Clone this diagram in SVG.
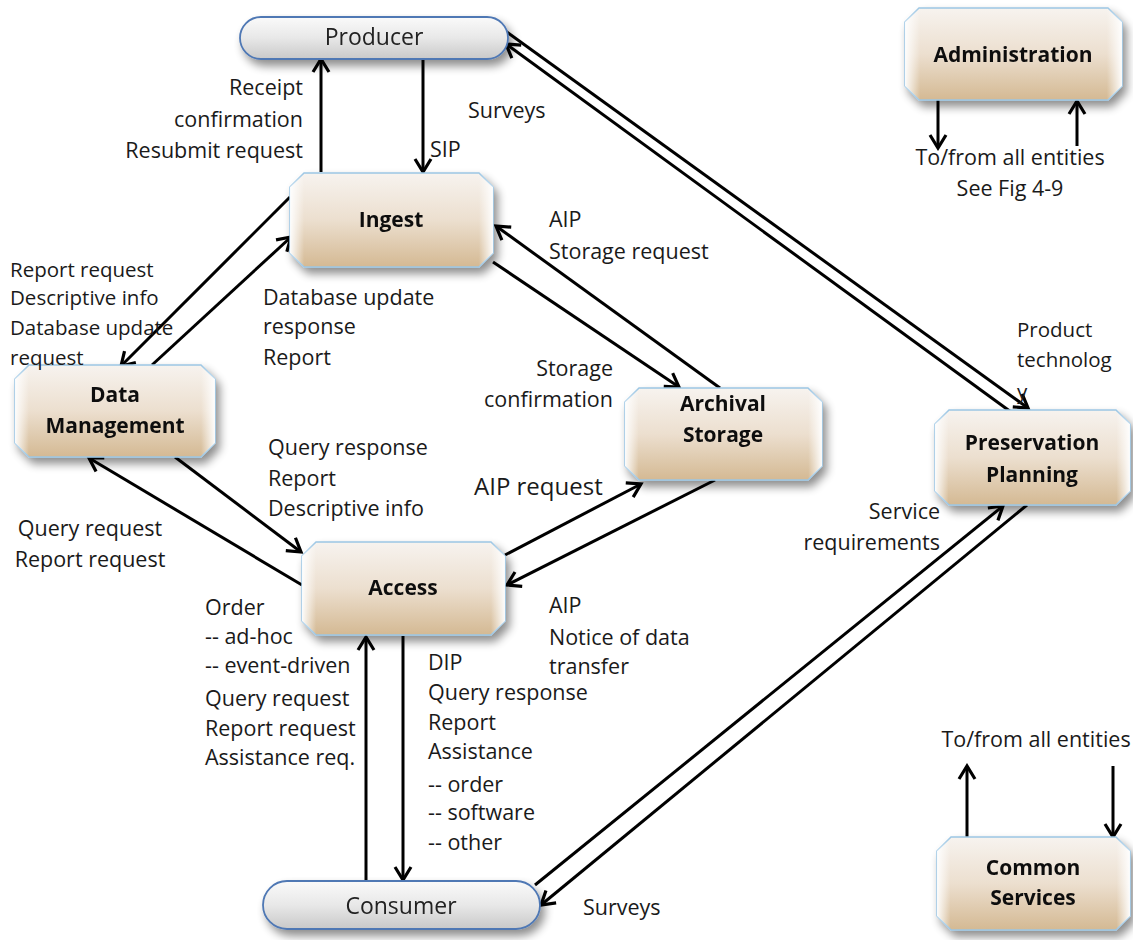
<svg xmlns="http://www.w3.org/2000/svg" width="1133" height="940" viewBox="0 0 1133 940">
<style>
.lbl{font-family:"Open Sans","Liberation Sans",sans-serif;font-size:21.5px;fill:#1a1a1a}
.nt{font-family:"Open Sans","Liberation Sans",sans-serif;font-size:21px;font-weight:bold;fill:#111;text-anchor:middle}
.pt{font-family:"Open Sans","Liberation Sans",sans-serif;font-size:23px;fill:#222;text-anchor:middle}
.box{fill:url(#tan);stroke:#9cc6e4;stroke-width:1.5}
.hl{fill:url(#side)}
.pill{fill:url(#gray);stroke:#4f78b4;stroke-width:1.8}
.ca{fill:none;stroke:#000;stroke-width:3;marker-end:url(#ah)}
.e{text-anchor:end}
.m{text-anchor:middle}
.s{font-size:20.5px}
</style>
<defs>
<linearGradient id="tan" x1="0" y1="0" x2="0" y2="1">
<stop offset="0" stop-color="#f7f3ef"/>
<stop offset="0.5" stop-color="#ecdfcf"/>
<stop offset="1" stop-color="#d4b993"/>
</linearGradient>
<linearGradient id="side" x1="0" y1="0" x2="1" y2="0">
<stop offset="0" stop-color="#fff" stop-opacity="0.95"/>
<stop offset="0.07" stop-color="#fff" stop-opacity="0"/>
<stop offset="0.93" stop-color="#fff" stop-opacity="0"/>
<stop offset="1" stop-color="#fff" stop-opacity="0.95"/>
</linearGradient>
<linearGradient id="gray" x1="0" y1="0" x2="0" y2="1">
<stop offset="0" stop-color="#fafafa"/>
<stop offset="0.5" stop-color="#e8e8e8"/>
<stop offset="1" stop-color="#c9c9c9"/>
</linearGradient>
<filter id="sh" x="-20%" y="-20%" width="150%" height="160%">
<feGaussianBlur in="SourceAlpha" stdDeviation="5"/>
<feOffset dx="4" dy="6" result="b"/>
<feComponentTransfer><feFuncA type="linear" slope="0.45"/></feComponentTransfer>
<feMerge><feMergeNode/><feMergeNode in="SourceGraphic"/></feMerge>
</filter>
<marker id="ah" viewBox="0 0 20 20" refX="17" refY="10" markerWidth="20" markerHeight="20" orient="auto" markerUnits="userSpaceOnUse">
<path d="M4,2 L17,10 L4,18" fill="none" stroke="#000" stroke-width="3.2"/>
</marker>
</defs>
<rect width="1133" height="940" fill="#fff"/>

<g id="connectors">
<path class="ca" d="M423,58 L423,172"/>
<path class="ca" d="M321,172 L321,59"/>
<path class="ca" d="M497,25 L1028,408"/>
<path class="ca" d="M1011,412 L506,44"/>
<path class="ca" d="M290,197 L121,366"/>
<path class="ca" d="M152,365 L291,237"/>
<path class="ca" d="M493,262 L679,387"/>
<path class="ca" d="M720,388 L496,226"/>
<path class="ca" d="M175,457 L301,552"/>
<path class="ca" d="M302,585 L89,458"/>
<path class="ca" d="M505,555 L641,484"/>
<path class="ca" d="M715,480 L507,585"/>
<path class="ca" d="M366,881 L366,637"/>
<path class="ca" d="M403,636 L403,880"/>
<path class="ca" d="M535,885 L1003,506"/>
<path class="ca" d="M1027,505 L541,905"/>
<path class="ca" d="M938,100 L938,148"/>
<path class="ca" d="M1077,146 L1077,101"/>
<path class="ca" d="M967,837 L967,766"/>
<path class="ca" d="M1113,766 L1113,837"/>
</g>

<g id="producer" filter="url(#sh)">
<rect class="pill" x="240" y="17" width="268" height="42" rx="21"/>
<text class="pt" x="374" y="45">Producer</text>
</g>
<g id="consumer" filter="url(#sh)">
<rect class="pill" x="263" y="881" width="277" height="48" rx="24"/>
<text class="pt" x="401" y="914">Consumer</text>
</g>
<g id="administration" filter="url(#sh)">
<path class="box" d="M919,8 H1108 L1122,22 V86 L1108,100 H919 L905,86 V22 Z"/>
<path class="hl" d="M919,8 H1108 L1122,22 V86 L1108,100 H919 L905,86 V22 Z"/>
<text class="nt" x="1013" y="62">Administration</text>
</g>
<g id="ingest" filter="url(#sh)">
<path class="box" d="M304,173 H479 L493,187 V253 L479,267 H304 L290,253 V187 Z"/>
<path class="hl" d="M304,173 H479 L493,187 V253 L479,267 H304 L290,253 V187 Z"/>
<text class="nt" x="391" y="227">Ingest</text>
</g>
<g id="data-management" filter="url(#sh)">
<path class="box" d="M29,365 H201 L215,379 V443 L201,457 H29 L15,443 V379 Z"/>
<path class="hl" d="M29,365 H201 L215,379 V443 L201,457 H29 L15,443 V379 Z"/>
<text class="nt" x="115" y="402">Data</text>
<text class="nt" x="115" y="433">Management</text>
</g>
<g id="archival-storage" filter="url(#sh)">
<path class="box" d="M639,388 H808 L822,402 V466 L808,480 H639 L625,466 V402 Z"/>
<path class="hl" d="M639,388 H808 L822,402 V466 L808,480 H639 L625,466 V402 Z"/>
<text class="nt" x="723" y="411">Archival</text>
<text class="nt" x="723" y="442">Storage</text>
</g>
<g id="access" filter="url(#sh)">
<path class="box" d="M316,542 H491 L505,556 V621 L491,635 H316 L302,621 V556 Z"/>
<path class="hl" d="M316,542 H491 L505,556 V621 L491,635 H316 L302,621 V556 Z"/>
<text class="nt" x="403" y="595">Access</text>
</g>
<g id="preservation-planning" filter="url(#sh)">
<path class="box" d="M949,410 H1116 L1130,424 V491 L1116,505 H949 L935,491 V424 Z"/>
<path class="hl" d="M949,410 H1116 L1130,424 V491 L1116,505 H949 L935,491 V424 Z"/>
<text class="nt" x="1032" y="450">Preservation</text>
<text class="nt" x="1032" y="482">Planning</text>
</g>
<g id="common-services" filter="url(#sh)">
<path class="box" d="M951,837 H1116 L1130,851 V916 L1116,930 H951 L937,916 V851 Z"/>
<path class="hl" d="M951,837 H1116 L1130,851 V916 L1116,930 H951 L937,916 V851 Z"/>
<text class="nt" x="1033" y="875">Common</text>
<text class="nt" x="1033" y="905">Services</text>
</g>

<g id="labels">
<text class="lbl e" x="303" y="95">Receipt</text>
<text class="lbl e" x="303" y="127">confirmation</text>
<text class="lbl e" x="303" y="158">Resubmit request</text>
<text class="lbl" x="430" y="157">SIP</text>
<text class="lbl" x="468" y="118">Surveys</text>
<text class="lbl" x="549" y="227">AIP</text>
<text class="lbl" x="549" y="259">Storage request</text>
<text class="lbl s" x="10" y="277">Report request</text>
<text class="lbl s" x="10" y="305">Descriptive info</text>
<text class="lbl s" x="10" y="335">Database update</text>
<text class="lbl s" x="10" y="365">request</text>
<text class="lbl" x="263" y="305">Database update</text>
<text class="lbl" x="263" y="334">response</text>
<text class="lbl" x="263" y="365">Report</text>
<text class="lbl e" x="613" y="376">Storage</text>
<text class="lbl e" x="613" y="407">confirmation</text>
<text class="lbl s" x="1017" y="337">Product</text>
<text class="lbl s" x="1017" y="367">technolog</text>
<text class="lbl s" x="1017" y="399">y</text>
<text class="lbl" x="268" y="455">Query response</text>
<text class="lbl" x="268" y="486">Report</text>
<text class="lbl" x="268" y="516">Descriptive info</text>
<text class="lbl" x="474" y="495" style="font-size:24px">AIP request</text>
<text class="lbl m" x="90" y="536">Query request</text>
<text class="lbl m" x="90" y="567">Report request</text>
<text class="lbl e" x="940" y="519">Service</text>
<text class="lbl e" x="940" y="550">requirements</text>
<text class="lbl" x="549" y="613">AIP</text>
<text class="lbl" x="549" y="645">Notice of data</text>
<text class="lbl" x="549" y="674">transfer</text>
<text class="lbl" x="205" y="615">Order</text>
<text class="lbl" x="205" y="644">-- ad-hoc</text>
<text class="lbl" x="205" y="673">-- event-driven</text>
<text class="lbl" x="205" y="706">Query request</text>
<text class="lbl" x="205" y="736">Report request</text>
<text class="lbl" x="205" y="765">Assistance req.</text>
<text class="lbl" x="428" y="670">DIP</text>
<text class="lbl" x="428" y="700">Query response</text>
<text class="lbl" x="428" y="730">Report</text>
<text class="lbl" x="428" y="759">Assistance</text>
<text class="lbl" x="428" y="792">-- order</text>
<text class="lbl" x="428" y="820">-- software</text>
<text class="lbl" x="428" y="850">-- other</text>
<text class="lbl" x="583" y="915">Surveys</text>
<text class="lbl m" x="1010" y="165">To/from all entities</text>
<text class="lbl m" x="1010" y="196">See Fig 4-9</text>
<text class="lbl m" x="1036" y="747">To/from all entities</text>
</g>
</svg>
